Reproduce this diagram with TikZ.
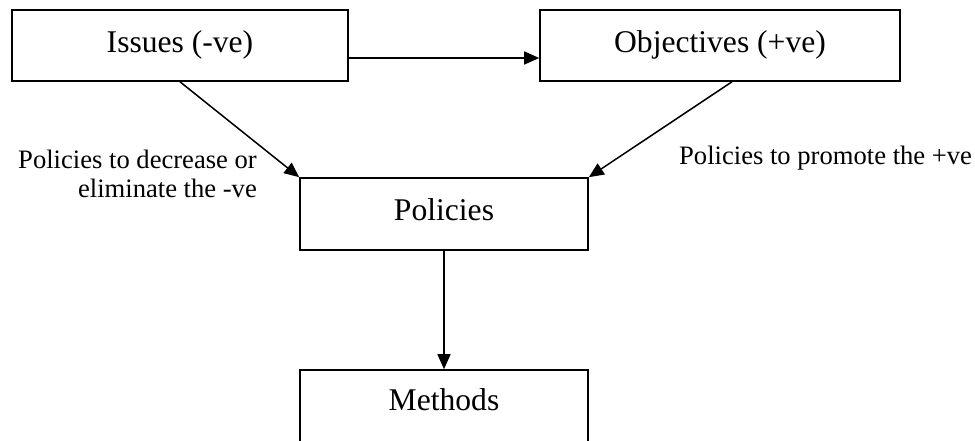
\documentclass[tikz,border=0pt]{standalone}
\usepackage{fontspec}
\setmainfont{Liberation Serif}
\usetikzlibrary{arrows.meta}
\begin{document}
\begin{tikzpicture}[x=1pt,y=-1pt,
  box/.style={draw,line width=1.6pt,inner sep=0pt,font=\fontsize{31.6}{36}\selectfont,text height=13pt,text depth=0pt},
  lbl/.style={font=\fontsize{26.6}{29}\selectfont,inner sep=0pt},
  arr/.style={line width=1.5pt,-{Triangle[length=15pt,width=13pt]}}]
\clip (0,0) rectangle (975,440);
\node[box,minimum width=336pt,minimum height=71pt] (iss) at (180,45.5) {Issues (-ve)};
\node[box,minimum width=360pt,minimum height=71pt] (obj) at (720,45.5) {Objectives (+ve)};
\node[box,minimum width=288pt,minimum height=72pt] (pol) at (444,214) {Policies};
\node[box,minimum width=288pt,minimum height=80pt,text height=10pt,text depth=10pt] (meth) at (444,410) {Methods};
\draw[arr] ([yshift=-12.5pt]iss.east) -- ([yshift=-12.5pt]obj.west);
\draw[arr] (iss.south) -- (pol.north west);
\draw[arr] ([xshift=12pt]obj.south) -- (pol.north east);
\draw[arr] (pol.south) -- (meth.north);
\node[lbl,align=right,anchor=base east] (l1) at (257,197) {Policies to decrease or\\eliminate the -ve};
\node[lbl,anchor=base west] (l2) at (679,164) {Policies to promote the +ve};
\end{tikzpicture}
\end{document}
